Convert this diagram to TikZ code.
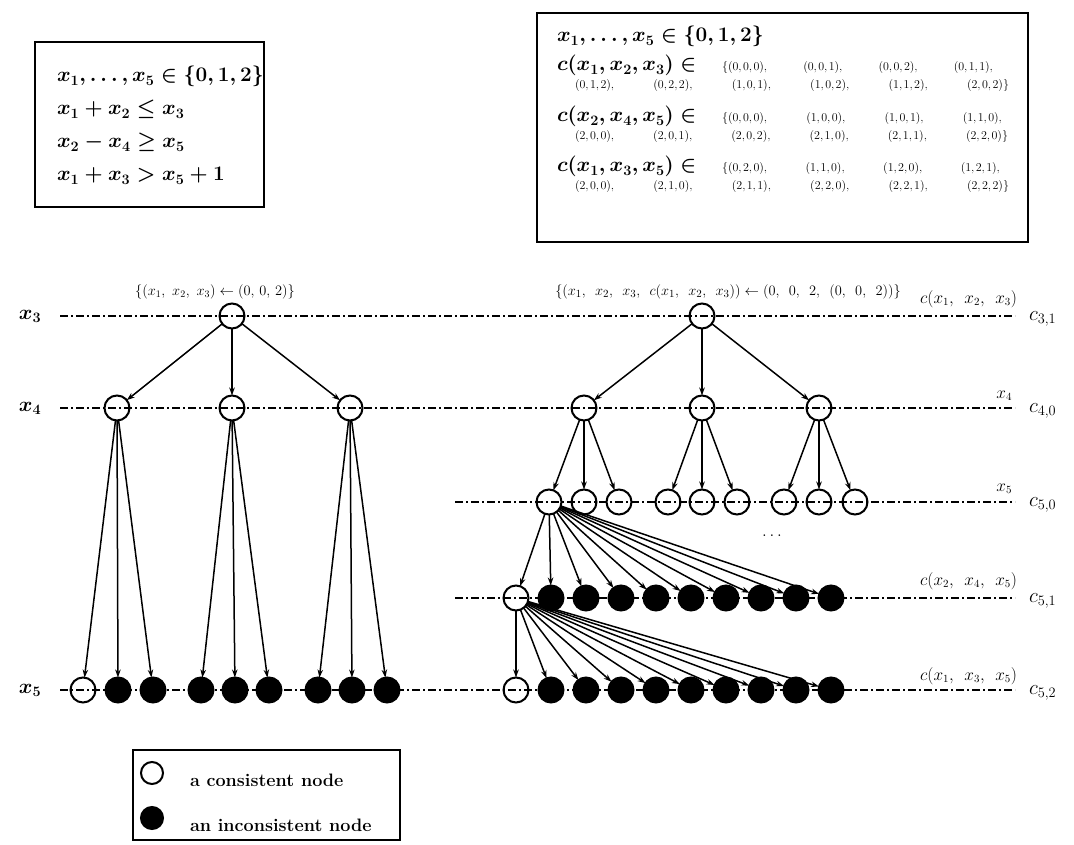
\documentclass[tikz,border=0pt]{standalone}
\usetikzlibrary{arrows.meta}
\newcommand{\myfs}[1]{\fontsize{#1}{#1}\selectfont}
\newcommand{\spread}[2]{\hbox to #1{#2}}
\newcommand{\tp}[3]{(#1,\mkern-1mu#2,\mkern-1mu#3)}
\begin{document}
\begin{tikzpicture}[x=1pt,y=-1pt,
  every node/.style={inner sep=0pt, outer sep=0pt},
  cnode/.style={circle, draw, line width=2pt, minimum size=25pt},
  inode/.style={cnode, fill=black},
  arr/.style={line width=1.5pt, -{Stealth[length=8pt,width=5.5pt]}},
  rowline/.style={line width=1.7pt, dash pattern=on 8pt off 3pt on 2pt off 3pt},
  box/.style={draw, line width=1.6pt},
  bigtxt/.style={font=\myfs{20.5}\boldmath},
  tuptxt/.style={font=\myfs{12.5}},
  lbltxt/.style={font=\myfs{14}},
  smalllbl/.style={font=\myfs{16}},
  rowlbl/.style={font=\myfs{21}\boldmath},
  clbl/.style={font=\myfs{22}},
  legtxt/.style={font=\myfs{18}\bfseries}
]
\useasboundingbox (0,0) rectangle (1074,845);

% ---------- left box ----------
\draw[box] (35,42) rectangle (264,207);
\node[bigtxt, anchor=base west] (l1) at (57,82) {$x_1,\ldots,x_5\in\{0,1,2\}$};
\node[bigtxt, anchor=base west] (l2) at (57,115) {$x_1+x_2\leq x_3$};
\node[bigtxt, anchor=base west] (l3) at (57,148) {$x_2-x_4\geq x_5$};
\node[bigtxt, anchor=base west] (l4) at (57,181) {$x_1+x_3>x_5+1$};

% ---------- right box ----------
\draw[box] (537,13) rectangle (1028,242);
\node[bigtxt, anchor=base west] (r1) at (557,42) {$x_1,\ldots,x_5\in\{0,1,2\}$};
\node[bigtxt, anchor=base west] (r2) at (557,71) {$c(x_1,x_2,x_3)\in$};
\node[tuptxt, anchor=base west] (r2t) at (722,71) {\spread{271pt}{$\{\tp000,$\hfill$\tp001,$\hfill$\tp002,$\hfill$\tp011,$}};
\node[tuptxt, anchor=base west] (r2c) at (575,89) {\spread{434pt}{$\tp012,$\hfill$\tp022,$\hfill$\tp101,$\hfill$\tp102,$\hfill$\tp112,$\hfill$\tp202\}$}};
\node[bigtxt, anchor=base west] (r3) at (557,122) {$c(x_2,x_4,x_5)\in$};
\node[tuptxt, anchor=base west] (r3t) at (722,122) {\spread{280pt}{$\{\tp000,$\hfill$\tp100,$\hfill$\tp101,$\hfill$\tp110,$}};
\node[tuptxt, anchor=base west] (r3c) at (575,140) {\spread{433pt}{$\tp200,$\hfill$\tp201,$\hfill$\tp202,$\hfill$\tp210,$\hfill$\tp211,$\hfill$\tp220\}$}};
\node[bigtxt, anchor=base west] (r4) at (557,172) {$c(x_1,x_3,x_5)\in$};
\node[tuptxt, anchor=base west] (r4t) at (722,172) {\spread{278pt}{$\{\tp020,$\hfill$\tp110,$\hfill$\tp120,$\hfill$\tp121,$}};
\node[tuptxt, anchor=base west] (r4c) at (575,190) {\spread{434pt}{$\tp200,$\hfill$\tp210,$\hfill$\tp211,$\hfill$\tp220,$\hfill$\tp221,$\hfill$\tp222\}$}};

% ---------- row lines ----------
\coordinate (a3) at (60,316);  \coordinate (b3) at (1015,316);
\coordinate (a4) at (60,408);  \coordinate (b4) at (1015,408);
\coordinate (a50) at (455,502); \coordinate (b50) at (1015,502);
\coordinate (a51) at (455,598); \coordinate (b51) at (1015,598);
\coordinate (a52) at (60,690);  \coordinate (b52) at (1015,690);
\draw[rowline] (a3) -- (b3);
\draw[rowline] (a4) -- (b4);
\draw[rowline] (a50) -- (b50);
\draw[rowline] (a51) -- (b51);
\draw[rowline] (a52) -- (b52);

% ---------- row labels ----------
\node[rowlbl] (lx3) at (30,316) {$x_3$};
\node[rowlbl] (lx4) at (30,408) {$x_4$};
\node[rowlbl] (lx5) at (30,690) {$x_5$};
\node[clbl, anchor=west] (c31) at (1029,319) {$c_{3,1}$};
\node[clbl, anchor=west] (c40) at (1029,411) {$c_{4,0}$};
\node[clbl, anchor=west] (c50) at (1029,505) {$c_{5,0}$};
\node[clbl, anchor=west] (c51) at (1029,601) {$c_{5,1}$};
\node[clbl, anchor=west] (c52) at (1029,693) {$c_{5,2}$};
\node[smalllbl, anchor=base east] (s31) at (1017,303) {$c(x_1,\ \,x_2,\ \,x_3)$};
\node[smalllbl, anchor=base east] (s40) at (1012,398) {$x_4$};
\node[smalllbl, anchor=base east] (s50) at (1012,491) {$x_5$};
\node[smalllbl, anchor=base east] (s51) at (1017,585) {$c(x_2,\ \,x_4,\ \,x_5)$};
\node[smalllbl, anchor=base east] (s52) at (1017,680) {$c(x_1,\ \,x_3,\ \,x_5)$};

% ---------- top labels ----------
\node[lbltxt] (tl) at (215,292) {$\{(x_1,\ x_2,\ x_3)\leftarrow(0,\,0,\,2)\}$};
\node[font=\myfs{15}] (tr) at (728,292) {$\{(x_1,\ \,x_2,\ \,x_3,\ \,c(x_1,\ \,x_2,\ \,x_3))\leftarrow(0,\ \,0,\ \,2,\ \,(0,\ \,0,\ \,2))\}$};

% ---------- left tree ----------
\node[cnode] (L) at (232,316) {};
\node[cnode] (La) at (117,408) {};
\node[cnode] (Lb) at (232,408) {};
\node[cnode] (Lc) at (350,408) {};
\node[cnode] (La1) at (83,690) {};
\node[inode] (La2) at (118,690) {};
\node[inode] (La3) at (153,690) {};
\node[inode] (Lb1) at (201,690) {};
\node[inode] (Lb2) at (235,690) {};
\node[inode] (Lb3) at (269,690) {};
\node[inode] (Lc1) at (318,690) {};
\node[inode] (Lc2) at (352,690) {};
\node[inode] (Lc3) at (387,690) {};
\foreach \c in {La,Lb,Lc} {
  \draw[arr] (L) -- (\c);
  \foreach \k in {1,2,3} \draw[arr] (\c) -- (\c\k);
}

% ---------- right tree ----------
\node[cnode] (R) at (702,316) {};
\node[cnode] (Ra) at (584,408) {};
\node[cnode] (Rb) at (702,408) {};
\node[cnode] (Rc) at (819,408) {};
\node[cnode] (Ra1) at (549,502) {};
\node[cnode] (Ra2) at (584,502) {};
\node[cnode] (Ra3) at (619,502) {};
\node[cnode] (Rb1) at (668,502) {};
\node[cnode] (Rb2) at (702,502) {};
\node[cnode] (Rb3) at (737,502) {};
\node[cnode] (Rc1) at (784,502) {};
\node[cnode] (Rc2) at (819,502) {};
\node[cnode] (Rc3) at (855,502) {};
\foreach \c in {Ra,Rb,Rc} {
  \draw[arr] (R) -- (\c);
  \foreach \k in {1,2,3} \draw[arr] (\c) -- (\c\k);
}
\node[cnode] (S0) at (516,598) {};
\foreach \k in {1,...,9} \node[inode] (S\k) at ({516+35*\k},598) {};
\node[cnode] (T0) at (516,690) {};
\foreach \k in {1,...,9} \node[inode] (T\k) at ({516+35*\k},690) {};
\foreach \k in {0,...,9} \draw[arr] (Ra1) -- (S\k);
\foreach \k in {0,...,9} \draw[arr] (S0) -- (T\k);
\node[font=\myfs{16}] (dots) at (772,536) {$\ldots$};

% ---------- legend ----------
\draw[box] (133,750) rectangle (400,840);
\node[circle, draw, line width=2pt, minimum size=22pt] (lg1) at (152,773) {};
\node[circle, draw, fill=black, line width=2pt, minimum size=22pt] (lg2) at (152,818) {};
\node[legtxt, anchor=west] (lt1) at (190,780) {a consistent node};
\node[legtxt, anchor=west] (lt2) at (190,825) {an inconsistent node};
\end{tikzpicture}
\end{document}
